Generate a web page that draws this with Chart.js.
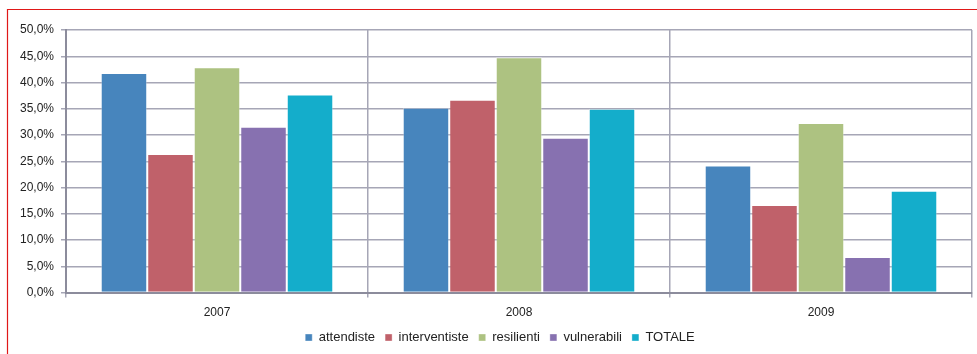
<!DOCTYPE html>
<html>
<head>
<meta charset="utf-8">
<script src="https://cdn.jsdelivr.net/npm/chart.js@4"></script>
<style>
  html, body { margin: 0; padding: 0; background: #fff; }
</style>
</head>
<body>
<canvas id="myChart" width="977" height="354"></canvas>
<script>
var years = ["2007", "2008", "2009"];
var attendiste = [41.8, 35.2, 24.2];
var interventiste = [26.4, 36.7, 16.7];
var resilienti = [42.9, 44.8, 32.3];
var vulnerabili = [31.6, 29.5, 6.8];
var totale = [37.7, 35.0, 19.4];
var yTickLabels = ["0,0%", "5,0%", "10,0%", "15,0%", "20,0%", "25,0%", "30,0%", "35,0%", "40,0%", "45,0%", "50,0%"];

Chart.defaults.font.family = "'Liberation Sans', Arial, sans-serif";
Chart.defaults.font.size = 12;
Chart.defaults.color = "#222";

// nudge the legend a bit to the right, like in the original
const legendShift = {
    id: 'legendShift',
    afterLayout(chart) {
        const lg = chart.legend;
        lg.left += 14; lg.right += 14;
    }
};

// red frame (left and top edges only, the rest is cut off)
const redFrame = {
    id: 'redFrame',
    beforeDraw(chart) {
        const c = chart.ctx;
        c.save();
        c.fillStyle = "#fff";
        c.fillRect(0, 0, chart.width, chart.height);
        c.strokeStyle = "#e01818";
        c.lineWidth = 1.2;
        c.beginPath();
        c.moveTo(7.5, chart.height);
        c.lineTo(7.5, 9.5);
        c.lineTo(chart.width, 9.5);
        c.stroke();
        c.restore();
    }
};

const ctx = document.getElementById('myChart');

new Chart(ctx, {
    type: 'bar',
    data: {
        labels: years,
        datasets: [
            { label: 'attendiste', data: attendiste, backgroundColor: "#4785bd" },
            { label: 'interventiste', data: interventiste, backgroundColor: "#c0616a" },
            { label: 'resilienti', data: resilienti, backgroundColor: "#adc281" },
            { label: 'vulnerabili', data: vulnerabili, backgroundColor: "#8771b0" },
            { label: 'TOTALE', data: totale, backgroundColor: "#14adcb" }
        ]
    },
    plugins: [legendShift, redFrame],
    options: {
        responsive: false,
        animation: false,
        layout: { padding: { left: 0, right: 5, top: 30, bottom: 0 } },
        datasets: {
            bar: {
                categoryPercentage: 0.77,
                barPercentage: 1,
                borderWidth: 1,
                borderColor: "rgba(255,255,255,0.35)"
            }
        },
        plugins: {
            tooltip: { enabled: false },
            legend: {
                position: 'bottom',
                labels: {
                    boxWidth: 7,
                    boxHeight: 7,
                    padding: 10,
                    color: "#222",
                    font: { size: 13 }
                }
            }
        },
        scales: {
            x: {
                afterFit: function (scale) { scale.height -= 7; },
                grid: { color: "#a6a6b6", lineWidth: 1.5, tickLength: 5, offset: true },
                border: { color: "#8c8c9c", width: 2 },
                ticks: { padding: 8, color: "#222" }
            },
            y: {
                min: 0,
                max: 50,
                afterFit: function (scale) { scale.width = 66; },
                grid: { color: "#a6a6b6", lineWidth: 1.5, tickLength: 5 },
                border: { color: "#8c8c9c", width: 2 },
                ticks: {
                    stepSize: 5,
                    padding: 7,
                    color: "#222",
                    callback: function (v, i) { return yTickLabels[i]; }
                }
            }
        }
    }
});
</script>
</body>
</html>
